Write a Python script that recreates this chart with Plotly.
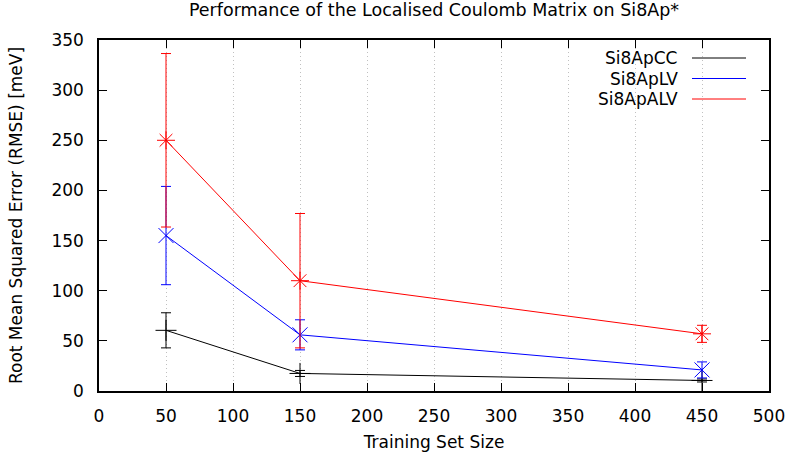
import plotly.graph_objects as go

x_sizes = [50, 150, 450]
series_names = ["Si8ApCC", "Si8ApLV", "Si8ApALV"]
cc_rmse = [60.5, 17.5, 10.5]
cc_err = [17.5, 3, 1.5]
lv_rmse = [155, 56, 21]
lv_err = [49, 15, 8]
alv_rmse = [250, 110, 57]
alv_err = [86.5, 67, 8.5]
colors = ["#000000", "#0000ff", "#ff0000"]
symbols = ["cross-thin", "x-thin", "asterisk"]
x_ticks = [0, 50, 100, 150, 200, 250, 300, 350, 400, 450, 500]
y_ticks = [0, 50, 100, 150, 200, 250, 300, 350]

FONT = "DejaVu Sans"
FS = 17

fig = go.Figure()
for name, y, e, c, s in zip(series_names, [cc_rmse, lv_rmse, alv_rmse],
                            [cc_err, lv_err, alv_err], colors, symbols):
    fig.add_trace(go.Scatter(
        x=x_sizes, y=y, name=name, mode="lines+markers",
        line=dict(color=c, width=1),
        marker=dict(symbol=s, size=15, color=c, line=dict(color=c, width=1)),
        error_y=dict(type="data", array=e, visible=True, color=c, thickness=1, width=5),
        showlegend=False,
    ))

# gnuplot-style legend (text right-aligned, line sample to the right)
for i, (name, c) in enumerate(zip(series_names, colors)):
    yp = 1 - (18 + 20.5 * i) / 351
    fig.add_annotation(x=(680 - 99) / 670, y=yp, xref="paper", yref="paper",
                       text=name, showarrow=False, xanchor="right", yanchor="middle",
                       font=dict(family=FONT, size=FS, color="#000"))
    fig.add_shape(type="line", xref="paper", yref="paper",
                  x0=(692 - 99) / 670, x1=(746 - 99) / 670, y0=yp, y1=yp,
                  line=dict(color=c, width=1))

fig.update_layout(
    width=788, height=458,
    margin=dict(l=99, r=19, t=40, b=67),
    paper_bgcolor="white", plot_bgcolor="white",
    font=dict(family=FONT, size=FS, color="#000"),
    title=dict(text="Performance of the Localised Coulomb Matrix on Si8Ap*",
               x=(99 + 769) / 2 / 788, xanchor="center", y=1 - 10 / 458, yanchor="middle",
               font=dict(family=FONT, size=17.5)),
    showlegend=False,
)
fig.update_xaxes(
    range=[0, 500], tickvals=x_ticks, ticks="inside", ticklen=8, tickcolor="#000",
    showline=True, linecolor="#000", linewidth=1.5, mirror="ticks",
    showgrid=True, gridcolor="#c0c0c0", griddash="1px,3px", gridwidth=1,
    zeroline=False, automargin=False, ticklabelstandoff=9,
    title=dict(text="Training Set Size", standoff=11, font=dict(family=FONT, size=FS)),
)
fig.update_yaxes(
    range=[0, 350], tickvals=y_ticks, ticks="inside", ticklen=8, tickcolor="#000",
    showline=True, linecolor="#000", linewidth=1.5, mirror="ticks",
    showgrid=False, zeroline=False, automargin=False, ticklabelstandoff=10,
    title=dict(text="Root Mean Squared Error (RMSE) [meV]", standoff=24,
               font=dict(family=FONT, size=FS)),
)

fig.write_html("out.html")
